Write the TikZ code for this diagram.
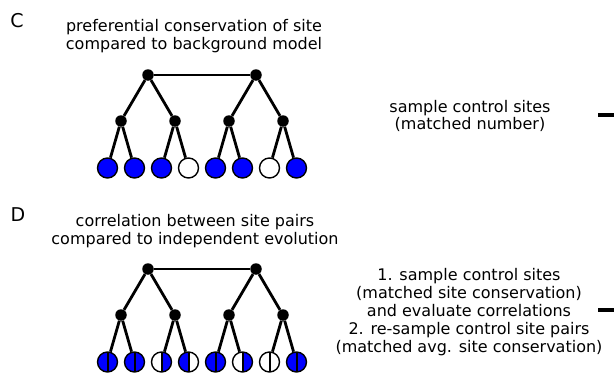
\documentclass[tikz,border=0pt]{standalone}
\usepackage{fontspec}
\setmainfont{DejaVu Sans}
\usetikzlibrary{positioning}
\definecolor{conserved}{RGB}{0,0,255}
\tikzset{
	inner/.style={
		circle,
		fill=black,
		inner sep=0pt,
		minimum size=11.5pt,
	},
	leaf/.style={
		circle,
		draw,
		line width=1.4pt,
		fill=#1,
		inner sep=0pt,
		minimum size=20pt,
	},
	half/.style 2 args={
		leaf=white,
		path picture={
			\fill[#1] (path picture bounding box.south west) rectangle (path picture bounding box.north);
			\fill[#2] (path picture bounding box.south) rectangle (path picture bounding box.north east);
			\draw[line width=2pt] (path picture bounding box.south) -- (path picture bounding box.north);
		},
	},
	branch/.style={
		line width=2.8pt,
	},
	caption/.style={
		align=center,
		font=\fontsize{16}{17.5}\selectfont,
	},
	panel/.style={
		font=\fontsize{19}{22}\selectfont,
	},
}

\begin{document}
\begin{tikzpicture}[x=1pt,y=-1pt,on grid]
\useasboundingbox (0,0) rectangle (614,380);

% panel C: conservation of single sites
\node[panel] (labc) at (17,21) {C};
\node[caption] (titc) at (194,36) {preferential conservation of site\\compared to background model};

\node[inner] (cl) at (148,75) {};
\node[inner] (cr) [right=108pt of cl] {};
\node[inner] (ca) [below left=46pt and 27pt of cl] {};
\node[inner] (cb) [below right=46pt and 27pt of cl] {};
\node[inner] (cc) [below left=46pt and 27pt of cr] {};
\node[inner] (cd) [below right=46pt and 27pt of cr] {};

\node[leaf=conserved] (c1) [below left=47pt and 13.5pt of ca] {};
\node[leaf=conserved] (c2) [below right=47pt and 13.5pt of ca] {};
\node[leaf=conserved] (c3) [below left=47pt and 13.5pt of cb] {};
\node[leaf=white] (c4) [below right=47pt and 13.5pt of cb] {};
\node[leaf=conserved] (c5) [below left=47pt and 13.5pt of cc] {};
\node[leaf=conserved] (c6) [below right=47pt and 13.5pt of cc] {};
\node[leaf=white] (c7) [below left=47pt and 13.5pt of cd] {};
\node[leaf=conserved] (c8) [below right=47pt and 13.5pt of cd] {};

\draw[branch] (cl) -- (cr);
\draw[branch] (cl) -- (ca) (cl) -- (cb);
\draw[branch] (cr) -- (cc) (cr) -- (cd);
\draw[branch] (ca) -- (c1) (ca) -- (c2);
\draw[branch] (cb) -- (c3) (cb) -- (c4);
\draw[branch] (cc) -- (c5) (cc) -- (c6);
\draw[branch] (cd) -- (c7) (cd) -- (c8);

\node[caption] (ctrlc) at (470,116) {sample control sites\\(matched number)};
\coordinate (outc) at (598,115);
\coordinate (edgec) at (614,115);
\draw[line width=3.5pt] (outc) -- (edgec);

% panel D: correlated pairs of sites
\node[panel] (labd) at (18,215) {D};
\node[caption] (titd) at (195,231) {correlation between site pairs\\compared to independent evolution};

\node[inner] (dl) at (148,269) {};
\node[inner] (dr) [right=108pt of dl] {};
\node[inner] (da) [below left=46pt and 27pt of dl] {};
\node[inner] (db) [below right=46pt and 27pt of dl] {};
\node[inner] (dc) [below left=46pt and 27pt of dr] {};
\node[inner] (dd) [below right=46pt and 27pt of dr] {};

\node[half={conserved}{conserved}] (d1) [below left=47pt and 13.5pt of da] {};
\node[half={conserved}{conserved}] (d2) [below right=47pt and 13.5pt of da] {};
\node[half={white}{conserved}] (d3) [below left=47pt and 13.5pt of db] {};
\node[half={conserved}{white}] (d4) [below right=47pt and 13.5pt of db] {};
\node[half={conserved}{conserved}] (d5) [below left=47pt and 13.5pt of dc] {};
\node[half={white}{conserved}] (d6) [below right=47pt and 13.5pt of dc] {};
\node[half={white}{white}] (d7) [below left=47pt and 13.5pt of dd] {};
\node[half={conserved}{conserved}] (d8) [below right=47pt and 13.5pt of dd] {};

\draw[branch] (dl) -- (dr);
\draw[branch] (dl) -- (da) (dl) -- (db);
\draw[branch] (dr) -- (dc) (dr) -- (dd);
\draw[branch] (da) -- (d1) (da) -- (d2);
\draw[branch] (db) -- (d3) (db) -- (d4);
\draw[branch] (dc) -- (d5) (dc) -- (d6);
\draw[branch] (dd) -- (d7) (dd) -- (d8);

\node[caption,font=\fontsize{16}{18.2}\selectfont] (ctrld) at (469,312) {1. sample control sites\\(matched site conservation)\\and evaluate correlations\\2. re-sample control site pairs\\(matched avg. site conservation)};
\coordinate (outd) at (598,310);
\coordinate (edged) at (614,310);
\draw[line width=3.5pt] (outd) -- (edged);
\end{tikzpicture}
\end{document}
